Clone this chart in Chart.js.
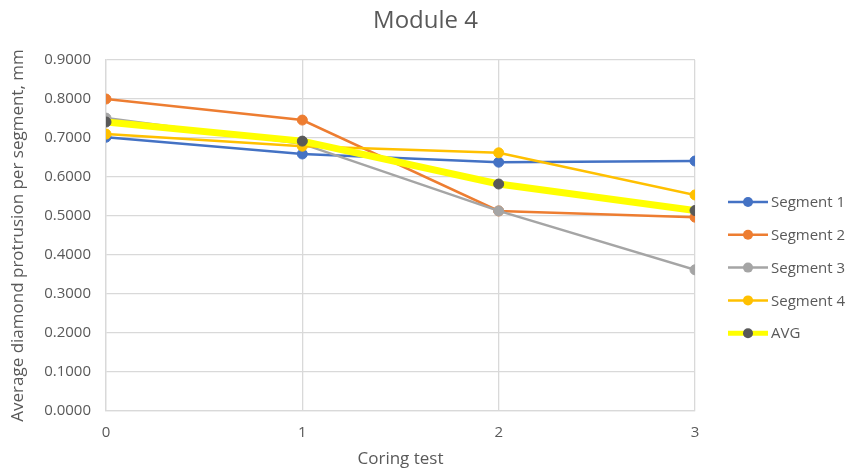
<!DOCTYPE html>
<html>
<head>
<meta charset="utf-8">
<script src="https://cdn.jsdelivr.net/npm/chart.js@4"></script>
<style>
  html, body { margin: 0; padding: 0; background: #fff; }
  #wrap { width: 847px; height: 473px; }
</style>
</head>
<body>
<div id="wrap"><canvas id="chart" width="847" height="473"></canvas></div>
<script>
const coringTests = [0, 1, 2, 3];
const segment1 = [0.7020, 0.6590, 0.6380, 0.6410];
const segment2 = [0.8000, 0.7460, 0.5130, 0.4970];
const segment3 = [0.7510, 0.6850, 0.5130, 0.3620];
const segment4 = [0.7100, 0.6790, 0.6620, 0.5540];
const avg = [0.7410, 0.6920, 0.5820, 0.5140];
const yTicks = [0, 0.1, 0.2, 0.3, 0.4, 0.5, 0.6, 0.7, 0.8, 0.9];

const FONT = "'Open Sans', 'Liberation Sans', sans-serif";
const TEXT = "#595959";
const GRID = "#d9d9d9";

const toPoints = (vals) => vals.map((v, i) => ({x: coringTests[i], y: v}));

const line = (label, vals, color, order) => ({
  label,
  data: toPoints(vals),
  borderColor: color,
  backgroundColor: color,
  pointBackgroundColor: color,
  pointBorderColor: color,
  borderWidth: 2.5,
  pointBorderWidth: 1,
  pointRadius: 5,
  pointHoverRadius: 5,
  order
});

const datasets = [
  line("Segment 1", segment1, "#4472C4", 5),
  line("Segment 2", segment2, "#ED7D31", 4),
  line("Segment 3", segment3, "#A5A5A5", 3),
  line("Segment 4", segment4, "#FFC000", 2),
  Object.assign(line("AVG", avg, "#FFFF00", 1), {
    borderWidth: 7,
    pointBackgroundColor: "#595959",
    pointBorderColor: "#595959"
  })
];

// title centred on the whole canvas and legend on the right
const sideLegend = {
  id: "sideLegend",
  afterDraw(chart) {
    const ctx = chart.ctx;
    const x0 = 728, x1 = 768, top = 202, step = 32.8;
    ctx.save();
    ctx.fillStyle = TEXT;
    ctx.font = "24px " + FONT;
    ctx.textAlign = "center";
    ctx.textBaseline = "middle";
    ctx.fillText("Module 4", chart.width / 2 + 2, 21);
    ctx.textAlign = "left";
    chart.data.datasets.forEach((ds, i) => {
      const y = top + i * step;
      ctx.strokeStyle = ds.borderColor;
      ctx.lineWidth = ds.label === "AVG" ? 5 : 2.5;
      ctx.beginPath();
      ctx.moveTo(x0, y);
      ctx.lineTo(x1, y);
      ctx.stroke();
      ctx.fillStyle = ds.pointBackgroundColor;
      ctx.beginPath();
      ctx.arc((x0 + x1) / 2, y, 5, 0, Math.PI * 2);
      ctx.fill();
      ctx.fillStyle = TEXT;
      ctx.font = "15px " + FONT;
      ctx.fillText(ds.label, x1 + 3, y + 1);
    });
    ctx.restore();
  }
};

new Chart(document.getElementById("chart").getContext("2d"), {
  type: "line",
  data: {datasets},
  options: {
    responsive: false,
    animation: false,
    layout: {padding: {left: 0, right: 152, top: 60, bottom: 0}},
    plugins: {
      legend: {display: false},
      tooltip: {enabled: false},
      title: {display: false}
    },
    scales: {
      x: {
        type: "linear",
        min: 0,
        max: 3,
        afterBuildTicks: (s) => { s.ticks = coringTests.map(v => ({value: v})); },
        afterFit: (s) => { s.height = 62; },
        grid: {color: GRID, lineWidth: 1.3, drawTicks: false},
        border: {color: GRID, width: 1.3},
        ticks: {color: TEXT, font: {family: FONT, size: 15}, padding: 13},
        title: {
          display: true,
          text: "Coring test",
          color: TEXT,
          font: {family: FONT, size: 17},
          padding: {top: 4}
        }
      },
      y: {
        min: 0,
        max: 0.9,
        afterBuildTicks: (s) => { s.ticks = yTicks.map(v => ({value: v})); },
        afterFit: (s) => { s.width = 106; },
        grid: {color: GRID, lineWidth: 1.3, drawTicks: false},
        border: {color: GRID, width: 1.3},
        ticks: {
          color: TEXT,
          font: {family: FONT, size: 15},
          padding: 15,
          callback: (v) => Number(v).toFixed(4)
        },
        title: {
          display: true,
          text: "Average diamond protrusion per segment, mm",
          color: TEXT,
          font: {family: FONT, size: 17},
          padding: {top: 8, bottom: 4}
        }
      }
    }
  },
  plugins: [sideLegend]
});
</script>
</body>
</html>
